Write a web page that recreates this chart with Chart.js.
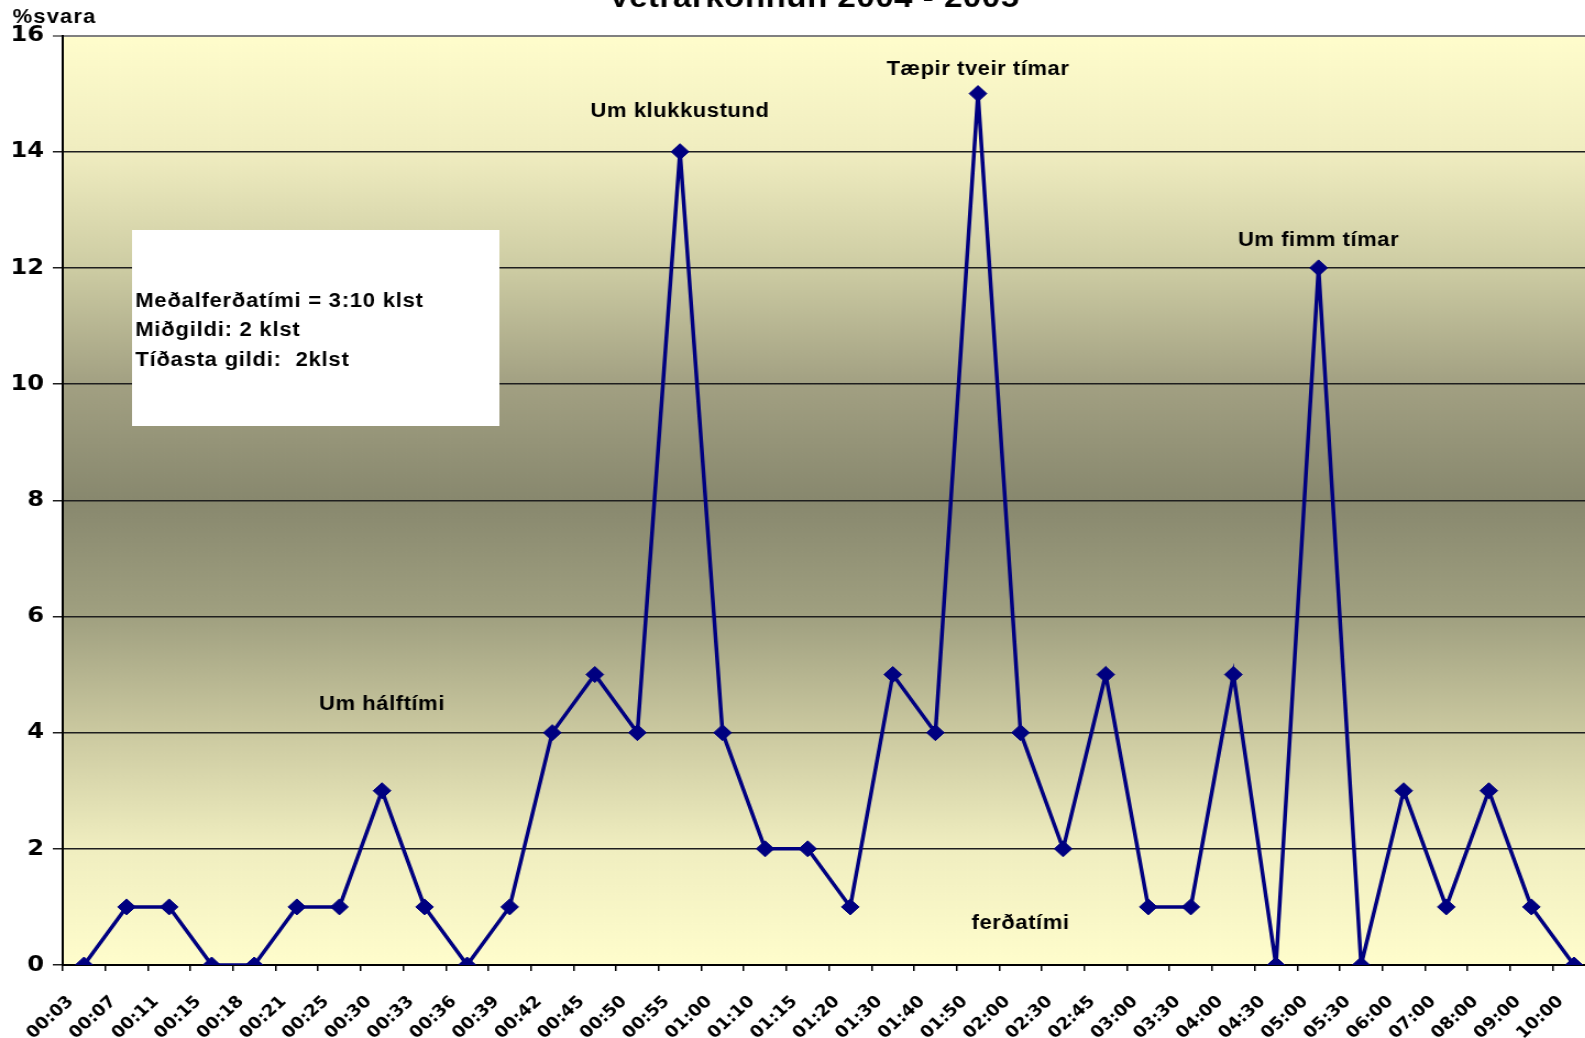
<!DOCTYPE html>
<html><head><meta charset="utf-8">
<script src="https://cdn.jsdelivr.net/npm/chart.js@4.4.1/dist/chart.umd.min.js"></script>
<style>
html,body{margin:0;padding:0;background:#fff;overflow:hidden;width:1585px;height:1038px;}
#wrap{position:absolute;left:0;top:0;width:1466px;height:1038px;transform:scaleX(1.1);transform-origin:0 0;}
canvas{display:block;}
</style></head><body>
<div id="wrap"><canvas id="c" width="1466" height="1038"></canvas></div>
<script>
// ---- data ----
const categories = ['00:03','00:07','00:11','00:15','00:18','00:21','00:25','00:30','00:33','00:36','00:39','00:42',
  '00:45','00:50','00:55','01:00','01:10','01:15','01:20','01:30','01:40','01:50','02:00','02:30',
  '02:45','03:00','03:30','04:00','04:30','05:00','05:30','06:00','07:00','08:00','09:00','10:00'];
const shares = [0,1,1,0,0,1,1,3,1,0,1,4,5,4,14,4,2,2,1,5,4,15,4,2,5,1,1,5,0,12,0,3,1,3,1,0];
const yMin = 0, yMax = 16, yStep = 2;
const chartTitle = 'Vetrarkönnun 2004 - 2005';
const yAxisTitle = '%svara';
const annoTexts = ['Um klukkustund','Tæpir tveir tímar','Um fimm tímar','Um hálftími','ferðatími'];
const annoCategory = ['00:55','01:50','05:00','00:30','02:00'];
const annoLevel = [14.59, 15.32, 12.37, 4.39, 0.62];
const statLines = ['Meðalferðatími = 3:10 klst','Miðgildi: 2 klst','Tíðasta gildi:  2klst'];

const FONT = '"Liberation Sans", Arial, sans-serif';
const FONT_WIDE = '"DejaVu Sans", Verdana, sans-serif';

const bgPlugin = {
  id: 'bg',
  beforeDraw(chart) {
    const {ctx, chartArea: a} = chart;
    const g = ctx.createLinearGradient(0, a.top, 0, a.bottom);
    g.addColorStop(0, '#FFFDCC');
    g.addColorStop(0.125, '#F0EDC0');
    g.addColorStop(0.25, '#CDCCA3');
    g.addColorStop(0.375, '#A2A082');
    g.addColorStop(0.5, '#88886E');
    g.addColorStop(0.625, '#A0A080');
    g.addColorStop(0.75, '#CBC9A0');
    g.addColorStop(0.875, '#F0EEC0');
    g.addColorStop(1, '#FFFDCC');
    ctx.save();
    ctx.fillStyle = g;
    ctx.fillRect(a.left, a.top, a.right - a.left, a.bottom - a.top);
    ctx.restore();
  }
};

const textPlugin = {
  id: 'texts',
  afterDraw(chart) {
    const {ctx} = chart;
    const xs = chart.scales.x, ys = chart.scales.y;
    ctx.save();
    // stats box
    ctx.fillStyle = '#ffffff';
    ctx.fillRect(120, 230, 334, 196);
    ctx.fillStyle = '#000';
    ctx.font = 'bold 20px ' + FONT;
    ctx.letterSpacing = '0.7px';
    ctx.textAlign = 'left';
    ctx.textBaseline = 'alphabetic';
    statLines.forEach((t, i) => ctx.fillText(t, 123, 306.5 + i * 29.5));
    // annotations
    ctx.letterSpacing = '0.5px';
    ctx.textAlign = 'center';
    annoTexts.forEach((t, i) => {
      const x = xs.getPixelForValue(categories.indexOf(annoCategory[i]));
      const y = ys.getPixelForValue(annoLevel[i]);
      ctx.fillText(t, x, y);
    });
    // title (cut off at top)
    ctx.letterSpacing = '0.5px';
    ctx.font = 'bold 30px ' + FONT;
    ctx.fillText(chartTitle, 740, 7);
    // y title
    ctx.textAlign = 'left';
    ctx.font = 'bold 20px ' + FONT;
    ctx.letterSpacing = '1px';
    ctx.fillText(yAxisTitle, 11.5, 22.5);
    ctx.restore();
  }
};

new Chart(document.getElementById('c'), {
  type: 'line',
  data: {
    labels: categories,
    datasets: [{
      data: shares,
      borderColor: '#000080',
      backgroundColor: '#000080',
      borderWidth: 3.5,
      pointStyle: 'rectRot',
      pointRadius: 8,
      pointBorderWidth: 1,
      pointBackgroundColor: '#000080',
      pointBorderColor: '#000080',
      tension: 0,
      fill: false
    }]
  },
  options: {
    responsive: false,
    animation: false,
    devicePixelRatio: 1,
    layout: {padding: {top: 35.5, right: 10, left: 0, bottom: 0}},
    plugins: {legend: {display: false}, tooltip: {enabled: false}},
    scales: {
      x: {
        type: 'category',
        offset: true,
        afterFit(s) { s.height = 73; },
        grid: {display: true, drawOnChartArea: false, drawTicks: true, tickLength: 6, color: '#000', lineWidth: 1.5, offset: true},
        border: {display: true, color: '#000', width: 2},
        ticks: {
          autoSkip: false, minRotation: 45, maxRotation: 45,
          color: '#000', font: {family: FONT_WIDE, size: 16.5, weight: 'bold'},
          padding: 21, labelOffset: -12
        }
      },
      y: {
        min: yMin, max: yMax,
        afterFit(s) { s.width = 57; },
        grid: {
          color: (c) => c.tick && c.tick.value === yMax ? '#808080' : '#1e1e1e',
          lineWidth: (c) => c.tick && c.tick.value === yMax ? 2 : 1.5,
          tickLength: 9, drawTicks: true
        },
        border: {display: true, color: '#000', width: 2},
        ticks: {stepSize: yStep, color: '#000', font: {family: FONT_WIDE, size: 22, weight: 'bold'}, padding: 8}
      }
    }
  },
  plugins: [bgPlugin, textPlugin]
});
</script>
</body></html>
